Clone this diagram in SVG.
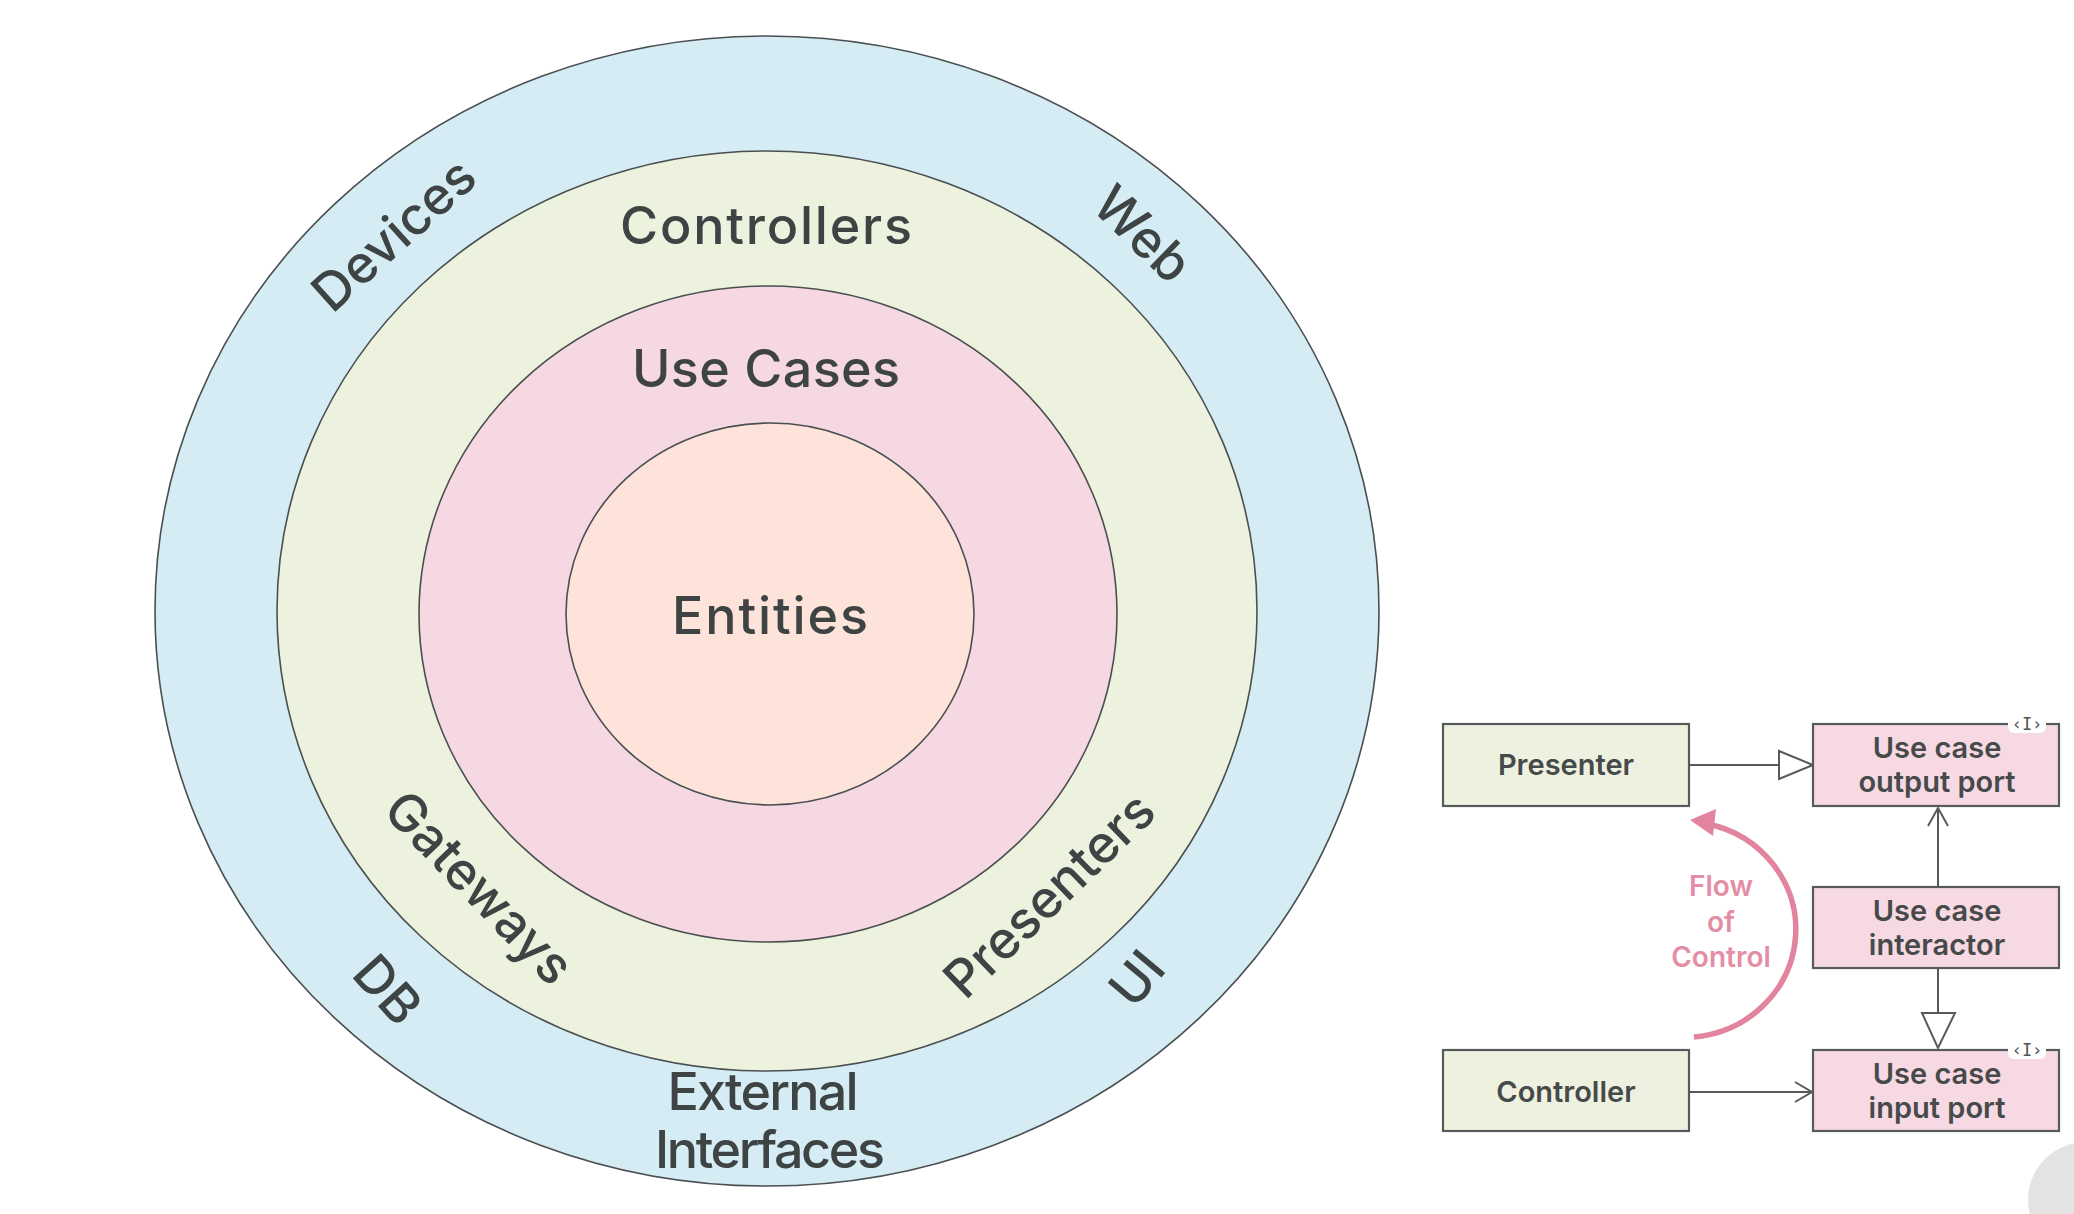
<svg xmlns="http://www.w3.org/2000/svg" width="2074" height="1214" viewBox="0 0 2074 1214">
<style>
text{font-variant-ligatures:none}
.ring{stroke:#4a4f50;stroke-width:1.6}
.lbl{font-family:Inter,Lato,"Noto Sans",sans-serif;font-weight:500;font-size:52px;fill:#3e4343;text-anchor:middle}
.box{stroke:#555a5a;stroke-width:2.2}
.g{fill:#eef1df}
.p{fill:#f6d9e2}
.bt{font-family:Inter,Lato,"Noto Sans",sans-serif;font-weight:600;font-size:29px;fill:#464a4a;text-anchor:middle}
.ln{stroke:#555a5a;stroke-width:2;fill:none}
.flow{font-family:Inter,Lato,"Noto Sans",sans-serif;font-weight:600;font-size:28px;fill:#e48ea6;text-anchor:middle}
.ster{font-family:"DejaVu Sans Mono",monospace;font-size:17px;fill:#555;text-anchor:middle}
</style>
<rect width="2074" height="1214" fill="#ffffff"/>
<g id="onion">
<g id="external-interfaces">
<ellipse class="ring" cx="767" cy="611" rx="612" ry="575" fill="#d5ecf5"/>
<text class="lbl" x="763" y="1110" textLength="191">External</text>
<text class="lbl" x="770" y="1168" textLength="230">Interfaces</text>
<text class="lbl" transform="translate(406,248) rotate(-42)">Devices</text>
<text class="lbl" transform="translate(1130,247) rotate(44)">Web</text>
<text class="lbl" transform="translate(374,1002) rotate(48)">DB</text>
<text class="lbl" transform="translate(1151,990) rotate(-50)">UI</text>
</g>
<g id="interface-adapters">
<ellipse class="ring" cx="767" cy="611" rx="490" ry="460" fill="#edf2df"/>
<text class="lbl" x="766" y="244" textLength="292">Controllers</text>
<text class="lbl" transform="translate(466,900) rotate(46)">Gateways</text>
<text class="lbl" transform="translate(1062,908) rotate(-44)">Presenters</text>
</g>
<g id="use-cases">
<ellipse class="ring" cx="768" cy="614" rx="349" ry="328" fill="#f5d8e2"/>
<text class="lbl" x="766" y="387" textLength="268">Use Cases</text>
</g>
<g id="entities">
<ellipse class="ring" cx="770" cy="614" rx="204" ry="191" fill="#fde3d9"/>
<text class="lbl" x="770" y="634" textLength="196">Entities</text>
</g>
</g>
<g id="connectors">
<line class="ln" x1="1689" y1="765" x2="1779" y2="765"/>
<polygon class="ln" points="1779,751 1813,765 1779,779" fill="#ffffff"/>
<line class="ln" x1="1938" y1="886" x2="1938" y2="808"/>
<polyline class="ln" points="1928,826 1938,808 1948,826"/>
<line class="ln" x1="1938" y1="968" x2="1938" y2="1013"/>
<polygon class="ln" points="1922,1013 1955,1013 1938,1048" fill="#ffffff"/>
<line class="ln" x1="1689" y1="1092" x2="1812" y2="1092"/>
<polyline class="ln" points="1795,1082 1812,1092 1795,1102"/>
</g>
<g id="flow-of-control">
<path d="M1694,1037 A112,108 0 0 0 1708,824" fill="none" stroke="#e2849d" stroke-width="5.5"/>
<polygon points="1690,820 1716,809 1713,836" fill="#e2849d"/>
<text class="flow" x="1721" y="896">Flow</text>
<text class="flow" x="1721" y="932">of</text>
<text class="flow" x="1721" y="967">Control</text>
</g>
<g id="presenter">
<rect class="box g" x="1443" y="724" width="246" height="82"/>
<text class="bt" x="1566" y="775">Presenter</text>
</g>
<g id="output-port">
<rect class="box p" x="1813" y="724" width="246" height="82"/>
<rect x="2008" y="715" width="38" height="18" rx="6" fill="#ffffff"/>
<text class="ster" x="2027" y="730">‹I›</text>
<text class="bt" x="1937" y="758">Use case</text>
<text class="bt" x="1937" y="792">output port</text>
</g>
<g id="interactor">
<rect class="box p" x="1813" y="887" width="246" height="81"/>
<text class="bt" x="1937" y="921">Use case</text>
<text class="bt" x="1937" y="955">interactor</text>
</g>
<g id="controller">
<rect class="box g" x="1443" y="1050" width="246" height="81"/>
<text class="bt" x="1566" y="1102">Controller</text>
</g>
<g id="input-port">
<rect class="box p" x="1813" y="1050" width="246" height="81"/>
<rect x="2008" y="1041" width="38" height="18" rx="6" fill="#ffffff"/>
<text class="ster" x="2027" y="1056">‹I›</text>
<text class="bt" x="1937" y="1084">Use case</text>
<text class="bt" x="1937" y="1118">input port</text>
</g>
<g id="logo">
<circle cx="2086" cy="1200" r="58" fill="#e3e3e3"/>
</g>
</svg>
